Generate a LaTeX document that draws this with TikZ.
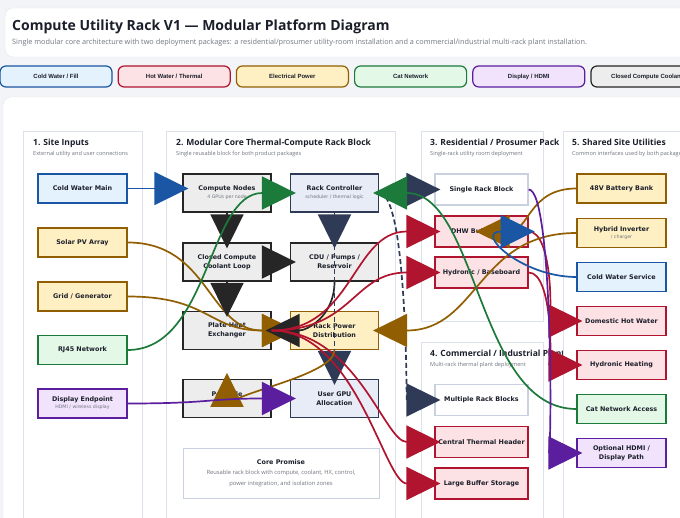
\documentclass[tikz,border=0pt]{standalone}
\usepackage{fontspec}
\setmainfont{Open Sans}
\newfontfamily\boxfont{DejaVu Sans}
\newfontfamily\pillfont{Liberation Sans}
\usetikzlibrary{arrows.meta}

% palette
\definecolor{pagebg}{HTML}{F3F4F8}
\definecolor{cardline}{HTML}{E1E5EE}
\definecolor{colline}{HTML}{DCE1EA}
\definecolor{inktxt}{HTML}{1B1F2A}
\definecolor{greytxt}{HTML}{70757F}
\definecolor{cwfill}{HTML}{E3F2FD}
\definecolor{cwline}{HTML}{1A56A3}
\definecolor{hotfill}{HTML}{FDE2E5}
\definecolor{hotline}{HTML}{B0142F}
\definecolor{pwrfill}{HTML}{FFF0C4}
\definecolor{pwrline}{HTML}{915F02}
\definecolor{netfill}{HTML}{E4F8E8}
\definecolor{netline}{HTML}{1C7A3A}
\definecolor{hdmifill}{HTML}{F1E3FC}
\definecolor{hdmiline}{HTML}{5A1E9E}
\definecolor{loopfill}{HTML}{EDEDED}
\definecolor{loopline}{HTML}{262626}
\definecolor{ctlfill}{HTML}{E8ECF7}
\definecolor{ctlline}{HTML}{2E3A56}
\definecolor{plainline}{HTML}{C9D1E0}

\tikzset{
  unit/.style={draw, line width=1.3pt, align=center, inner sep=1pt, text=inktxt,
    minimum width=89pt, minimum height=29pt,
    font=\boxfont\bfseries\fontsize{6.4}{9}\selectfont},
  core/.style={unit, minimum width=88pt, minimum height=38pt},
  pack/.style={unit, minimum width=93pt, minimum height=31pt},
  cwbox/.style={fill=cwfill, draw=cwline},
  hotbox/.style={fill=hotfill, draw=hotline},
  pwrbox/.style={fill=pwrfill, draw=pwrline},
  netbox/.style={fill=netfill, draw=netline},
  hdmibox/.style={fill=hdmifill, draw=hdmiline},
  loopbox/.style={fill=loopfill, draw=loopline},
  ctlbox/.style={fill=ctlfill, draw=ctlline},
  plainbox/.style={fill=white, draw=plainline},
  pill/.style={draw, line width=1.2pt, rounded corners=6pt, minimum width=112pt,
    minimum height=21pt, text=inktxt, font=\pillfont\bfseries\fontsize{6}{7}\selectfont},
  panel/.style={fill=white, draw=colline, line width=0.8pt},
  head/.style={anchor=base west, inner sep=0pt, text=inktxt,
    font=\bfseries\fontsize{8.5}{9}\selectfont},
  subhead/.style={anchor=base west, inner sep=0pt, text=greytxt,
    font=\fontsize{5.6}{6}\selectfont},
  flow/.style={line width=1.7pt, -{Triangle[length=34pt,width=33pt]}, shorten >=-6pt}
}
\newcommand{\subtxt}[1]{{\mdseries\fontsize{4.7}{6}\selectfont\color{greytxt}#1}}

\begin{document}
\begin{tikzpicture}[x=1pt, y=-1pt]
  \clip (0,0) rectangle (680,518);
  \fill[pagebg] (0,0) rectangle (680,518);

  % title card
  \draw[fill=white, draw=cardline, rounded corners=8pt] (5,8) rectangle (700,57);
  \node[anchor=base west, inner sep=0pt, text=inktxt, font=\bfseries\fontsize{14}{16}\selectfont]
    (title) at (12,31) {Compute Utility Rack V1 — Modular Platform Diagram};
  \node[anchor=base west, inner sep=0pt, text=greytxt, font=\fontsize{7.3}{8}\selectfont]
    (subtitle) at (12,45) {Single modular core architecture with two deployment packages: a residential/prosumer utility-room installation and a commercial/industrial multi-rack plant installation.};

  % legend pills
  \foreach \i/\txt/\f/\d in {0/{Cold Water / Fill}/cwfill/cwline, 1/{Hot Water / Thermal}/hotfill/hotline,
      2/{Electrical Power}/pwrfill/pwrline, 3/{Cat Network}/netfill/netline,
      4/{Display / HDMI}/hdmifill/hdmiline, 5/{Closed Compute Coolant}/loopfill/loopline} {
    \node[pill, fill=\f, draw=\d] (pill\i) at (56+118.2*\i, 76.5) {\txt};
  }

  % main card and columns
  \draw[fill=white, draw=cardline, rounded corners=8pt] (3,97) rectangle (700,540);
  \draw[panel] (23,131) rectangle (142,540);
  \node[head] (h1) at (33,146) {1. Site Inputs};
  \node[subhead] (s1) at (33,156) {External utility and user connections};
  \draw[panel] (166,131) rectangle (395,540);
  \node[head] (h2) at (176,146) {2. Modular Core Thermal-Compute Rack Block};
  \node[subhead] (s2) at (176,156) {Single reusable block for both product packages};
  \draw[panel] (421,131) rectangle (543,321);
  \node[head] (h3) at (430,146) {3. Residential / Prosumer Pack};
  \node[subhead] (s3) at (430,156) {Single-rack utility room deployment};
  \draw[panel] (421,342) rectangle (543,540);
  \node[head] (h4) at (430,357) {4. Commercial / Industrial Plant};
  \node[subhead] (s4) at (430,367) {Multi-rack thermal plant deployment};
  \draw[panel] (563,131) rectangle (700,540);
  \node[head] (h5) at (572,146) {5. Shared Site Utilities};
  \node[subhead] (s5) at (572,156) {Common interfaces used by both packages};

  % site inputs
  \node[unit, cwbox] (cwmain) at (82.5,188.5) {Cold Water Main};
  \node[unit, pwrbox] (solar) at (82.5,242.5) {Solar PV Array};
  \node[unit, pwrbox] (grid) at (82.5,296.5) {Grid / Generator};
  \node[unit, netbox] (rjnet) at (82.5,350) {RJ45 Network};
  \node[unit, hdmibox] (dispend) at (82.5,403.5) {Display Endpoint\\[-2pt]\subtxt{HDMI / wireless display}};

  % modular core
  \node[core, loopbox] (cnodes) at (227,193) {Compute Nodes\\[-1pt]\subtxt{4 GPUs per node}};
  \node[core, ctlbox] (rackctl) at (334.5,193) {Rack Controller\\[-1pt]\subtxt{scheduler / thermal logic}};
  \node[core, loopbox] (coolloop) at (227,262) {Closed Compute\\Coolant Loop};
  \node[core, loopbox] (cdu) at (334.5,262) {CDU / Pumps /\\Reservoir};
  \node[core, loopbox] (plhx) at (227,330.5) {Plate Heat\\Exchanger};
  \node[core, pwrbox] (rpd) at (334.5,330.5) {Rack Power\\Distribution};
  \node[core, loopbox] (portable) at (227,398.5) {Portable\\[-1pt]\subtxt{\phantom{x}}};
  \node[core, ctlbox] (gpualloc) at (334.5,398.5) {User GPU\\Allocation};
  \node[draw=plainline, fill=white, line width=1pt, minimum width=196pt, minimum height=50pt,
    align=center, text=inktxt, font=\fontsize{5.8}{10.5}\selectfont] (promise) at (281,473)
    {{\boxfont\bfseries\fontsize{6.4}{9}\selectfont Core Promise}\\
     \color{greytxt}Reusable rack block with compute, coolant, HX, control,\\
     \color{greytxt}power integration, and isolation zones};

  % residential and commercial packs
  \node[pack, plainbox] (srb) at (481.5,189.5) {Single Rack Block};
  \node[pack, hotbox] (dhw) at (481.5,231.5) {DHW Buffer Tank};
  \node[pack, hotbox] (hydb) at (481.5,272.5) {Hydronic / Baseboard};
  \node[pack, plainbox] (mrb) at (481.5,400) {Multiple Rack Blocks};
  \node[pack, hotbox] (cheader) at (481.5,442) {Central Thermal Header};
  \node[pack, hotbox] (lbuffer) at (481.5,483.5) {Large Buffer Storage};

  % shared utilities
  \node[unit, pwrbox] (battery) at (621.5,188.5) {48V Battery Bank};
  \node[unit, pwrbox] (inverter) at (621.5,233) {Hybrid Inverter\\[-2pt]\subtxt{/ charger}};
  \node[unit, cwbox] (cwservice) at (621.5,277) {Cold Water Service};
  \node[unit, hotbox] (dhwout) at (621.5,321) {Domestic Hot Water};
  \node[unit, hotbox] (hydheat) at (621.5,365) {Hydronic Heating};
  \node[unit, netbox] (catnet) at (621.5,409) {Cat Network Access};
  \node[unit, hdmibox] (hdmi) at (621.5,453) {Optional HDMI /\\Display Path};

  % electrical feeds
  \draw[flow, pwrline] (solar.east) .. controls +(82,0) and +(-82,0) .. (rpd.west);
  \draw[flow, pwrline] (grid.east) .. controls +(82,0) and +(-82,0) .. (rpd.west);

  % cold water and closed coolant loop
  \draw[flow, cwline] (cwmain.east) -- (cwmain.east -| cnodes.west);
  \draw[flow, loopline] (cnodes.south) -- (coolloop.north);
  \draw[flow, loopline] (coolloop.east) -- (cdu.west);
  \draw[flow, loopline] (coolloop.south) -- (plhx.north);
  \draw[flow, loopline] (cdu.south) .. controls +(0,35) and +(35,0) .. (plhx.east);

  % controller
  \draw[flow, ctlline] (rackctl.south) -- (cdu.north);
  \draw[flow, ctlline, dash pattern=on 5pt off 3pt] (rackctl.south) -- (gpualloc.north);
  \draw[flow, ctlline] (rackctl.east) .. controls +(28,0) and +(-28,0) .. (srb.west);
  \draw[flow, ctlline, dash pattern=on 5pt off 3pt] (rackctl.east) .. controls +(28,0) and +(-28,0) .. (mrb.west);

  % hot water out of the heat exchanger
  \draw[flow, hotline] (plhx.east) .. controls +(82,0) and +(-82,0) .. (dhw.west);
  \draw[flow, hotline] (plhx.east) .. controls +(82,0) and +(-82,0) .. (hydb.west);
  \draw[flow, hotline] (plhx.east) .. controls +(85,0) and +(-50,0) .. (cheader.west);
  \draw[flow, hotline] (plhx.east) .. controls +(85,0) and +(-50,0) .. (lbuffer.west);
  \draw[flow, hotline] (dhw.east) .. controls +(24.5,0) and +(-24.5,0) .. (dhwout.west);
  \draw[flow, hotline] (hydb.east) .. controls +(24.5,0) and +(-24.5,0) .. (hydheat.west);

  % power distribution and utilities
  \draw[flow, pwrline] (rpd.south) .. controls +(0,26) and +(0,15) .. (portable.north);
  \draw[flow, pwrline] (battery.west) .. controls +(-48,0) and +(48,0) .. (dhw.center);
  \draw[flow, pwrline] (inverter.west) .. controls +(-99,0) and +(99,0) .. (rpd.east);
  \draw[flow, cwline] (cwservice.west) .. controls +(-55,0) and +(-55,0) .. (dhw.east);

  % network and display
  \draw[flow, netline] (rjnet.east) .. controls +(82,0) and +(-82,0) .. (rackctl.west);
  \draw[flow, netline] (catnet.west) .. controls +(-99,0) and +(99,0) .. (rackctl.east);
  \draw[flow, hdmiline] (dispend.east) .. controls +(82,0) and +(-82,0) .. (gpualloc.west);
  \draw[flow, hdmiline] (srb.east) .. controls +(24.5,0) and +(-24.5,0) .. (hdmi.west);
\end{tikzpicture}
\end{document}
